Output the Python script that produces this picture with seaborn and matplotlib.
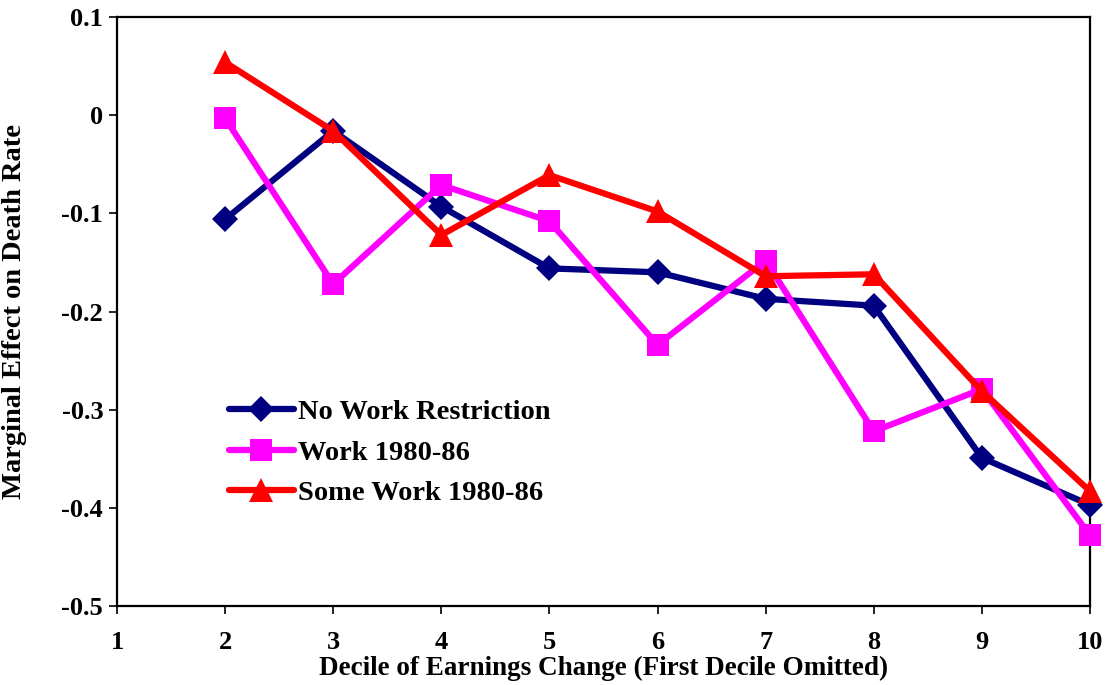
import numpy as np
import pandas as pd
import matplotlib
matplotlib.use("Agg")
import matplotlib.pyplot as plt
import seaborn as sns
from matplotlib.ticker import FuncFormatter

deciles = [2, 3, 4, 5, 6, 7, 8, 9, 10]
no_work_restriction = [-0.106, -0.016, -0.093, -0.156, -0.160, -0.187, -0.194, -0.349, -0.397]
work_1980_86 = [-0.003, -0.172, -0.071, -0.108, -0.234, -0.148, -0.322, -0.279, -0.428]
some_work_1980_86 = [0.054, -0.016, -0.122, -0.061, -0.098, -0.164, -0.162, -0.281, -0.383]
series_names = ["No Work Restriction", "Work 1980-86", "Some Work 1980-86"]
x_ticks = [1, 2, 3, 4, 5, 6, 7, 8, 9, 10]
y_ticks = [-0.5, -0.4, -0.3, -0.2, -0.1, 0.0, 0.1]

sns.set_style("ticks")
plt.rcParams["font.family"] = ["Liberation Serif", "DejaVu Serif"]
plt.rcParams["font.weight"] = "bold"
plt.rcParams["axes.unicode_minus"] = False
for k in ["text.color", "axes.labelcolor", "xtick.color", "ytick.color", "axes.edgecolor"]:
    plt.rcParams[k] = "black"

df = pd.DataFrame({
    "decile": deciles * 3,
    "value": no_work_restriction + work_1980_86 + some_work_1980_86,
    "series": [series_names[0]] * 9 + [series_names[1]] * 9 + [series_names[2]] * 9,
})

colors = ["#000080", "#FF00FF", "#FF0000"]
markers = ["D", "s", "^"]
msizes = [13, 16, 17]

fig = plt.figure(figsize=(11.06, 6.85), dpi=100)
ax = fig.add_axes([0.1058, 0.1153, 0.8797, 0.8597])

for name, c, m, ms in zip(series_names, colors, markers, msizes):
    sub = df[df["series"] == name]
    sns.lineplot(data=sub, x="decile", y="value", ax=ax, color=c, marker=m,
                 markersize=ms, markeredgewidth=0, linewidth=4.5, label=name,
                 clip_on=False, zorder=3)

ax.set_xlim(1, 10)
ax.set_ylim(-0.5, 0.1)
ax.set_xticks(x_ticks)
ax.set_yticks(y_ticks)
ax.yaxis.set_major_formatter(FuncFormatter(lambda v, p: "0" if abs(v) < 1e-9 else f"{v:.1f}"))

for s in ax.spines.values():
    s.set_visible(True)
    s.set_linewidth(1.6)
    s.set_color("black")

ax.tick_params(axis="both", which="major", labelsize=19, length=6, width=1.2, direction="out")
ax.tick_params(axis="x", pad=12)
ax.tick_params(axis="y", pad=4)

ax.set_xlabel("Decile of Earnings Change (First Decile Omitted)", fontsize=19.5, fontweight="bold")
ax.set_ylabel("Marginal Effect on Death Rate", fontsize=20.5, fontweight="bold")
ax.xaxis.set_label_coords(0.5, -0.084)
ax.yaxis.set_label_coords(-0.093, 0.5)

leg = ax.legend(loc="upper left", bbox_to_anchor=(0.103, 0.37), frameon=False,
                fontsize=20.5, handlelength=2.3, handletextpad=0.15, labelspacing=0.5,
                borderaxespad=0)
for t in leg.get_texts():
    t.set_fontweight("bold")

fig.savefig("out.png", dpi=100)
